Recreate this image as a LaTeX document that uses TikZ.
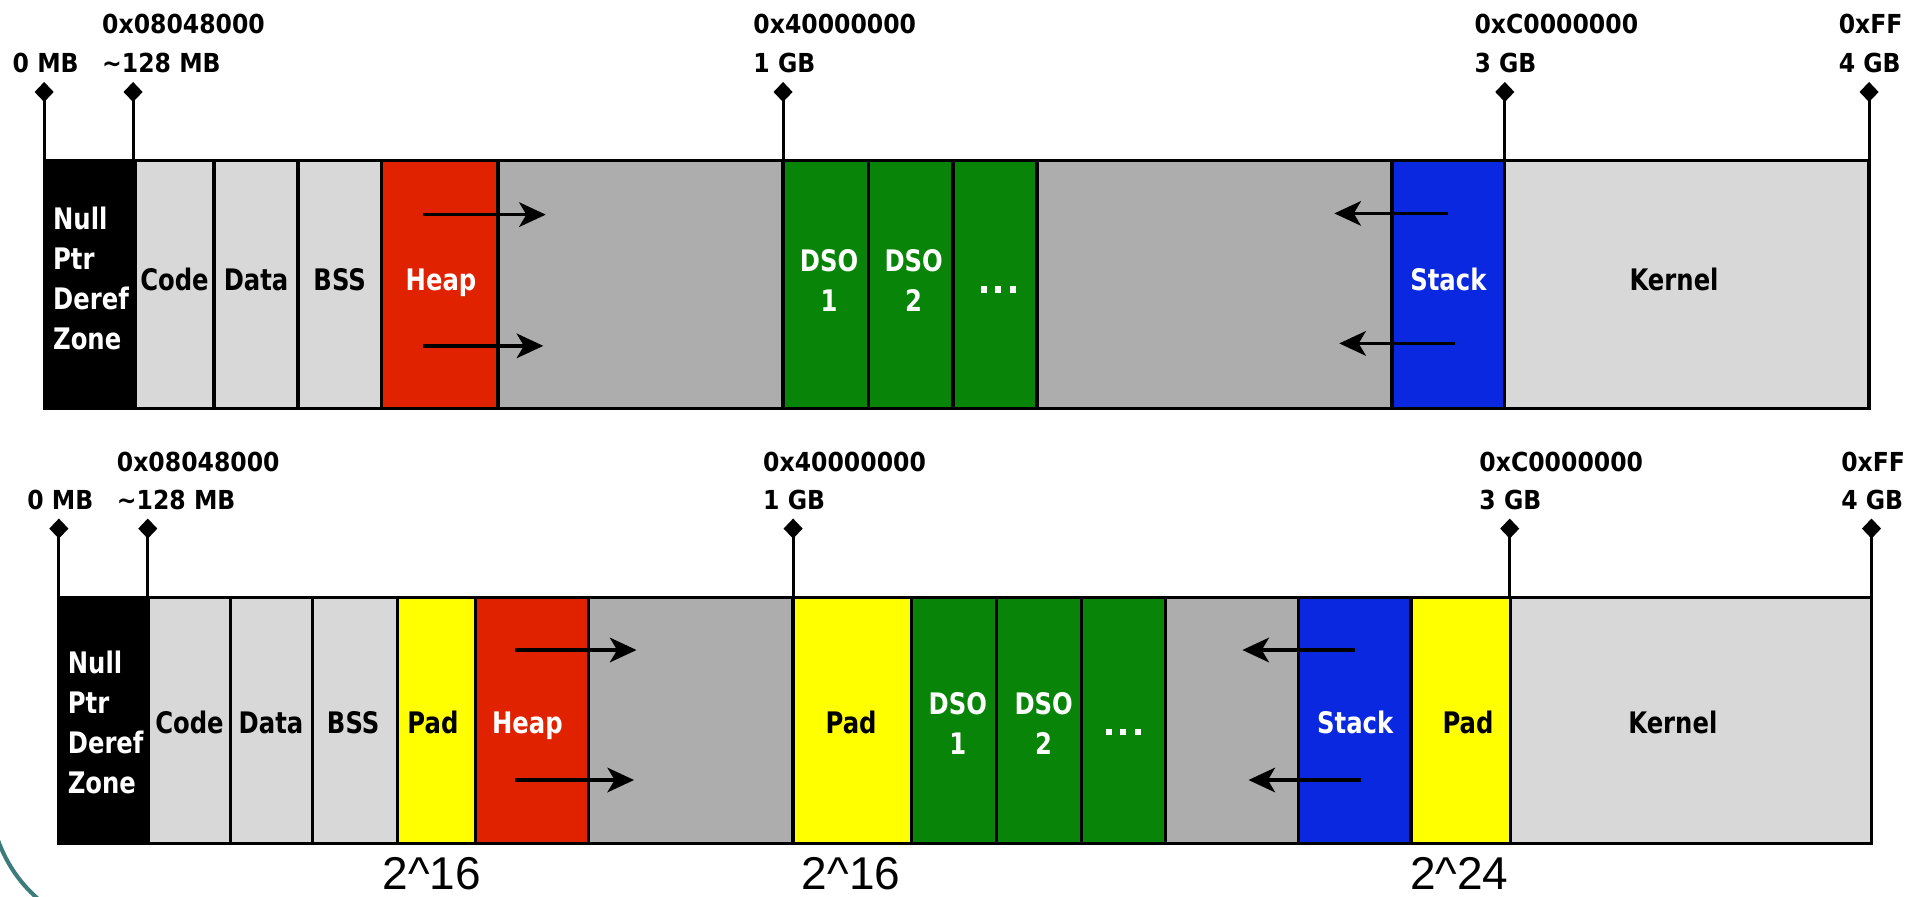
\documentclass[tikz,border=0pt]{standalone}
\usepackage{fontspec}
\usetikzlibrary{arrows.meta,shapes.geometric}
\newfontfamily\boxfont{DejaVu Sans}[FakeStretch=0.82]
\newfontfamily\addrfont{DejaVu Sans}[FakeStretch=0.9]
\newfontfamily\numfont{Liberation Sans}
\definecolor{segltgray}{HTML}{D8D8D8}
\definecolor{seggray}{HTML}{ADADAD}
\definecolor{segred}{HTML}{E02200}
\definecolor{seggreen}{HTML}{088508}
\definecolor{segblue}{HTML}{0A28E0}
\definecolor{segyellow}{HTML}{FFFF00}
\definecolor{arcteal}{HTML}{3E7B7B}
\newcommand\memseg[3]{\draw[segline, fill=#3] (#1,\yT) rectangle (#2,\yB);}
\newcommand\sqdots{\rule[-1.2pt]{3pt}{3pt}\hspace{4.2pt}\rule[-1.2pt]{3pt}{3pt}\hspace{4.2pt}\rule[-1.2pt]{3pt}{3pt}}
\begin{document}
\begin{tikzpicture}[x=0.6pt,y=-0.6pt,
  segline/.style={draw=black,line width=1.6pt},
  boxlbl/.style={font=\boxfont\bfseries\fontsize{14.5}{19.6}\selectfont, inner sep=0pt, anchor=base},
  boxlblw/.style={boxlbl,text=white},
  multilbl/.style={font=\boxfont\bfseries\fontsize{14.5}{19.6}\selectfont, inner sep=0pt, text=white},
  addrlbl/.style={font=\addrfont\bfseries\fontsize{12.8}{14}\selectfont, inner sep=0pt, anchor=west},
  tickdia/.style={diamond, fill=black, inner sep=0pt, minimum width=9.5pt, minimum height=10pt},
  tickline/.style={line width=1.5pt},
  growarrow/.style={line width=1.8pt, -{Stealth[length=13pt,width=12pt,inset=3.5pt]}},
  powlbl/.style={font=\numfont\fontsize{22.5}{27}\selectfont, inner sep=0pt, anchor=base},
]
\fill[white] (0,0) rectangle (1568,731);
\useasboundingbox (0,0) rectangle (1568,731);

% ---------------- top bar ----------------
\def\yT{131}\def\yB{333}
\memseg{36}{110}{black}
\memseg{110}{174.5}{segltgray}
\memseg{174.5}{243}{segltgray}
\memseg{243}{311}{segltgray}
\memseg{311}{406}{segred}
\memseg{406}{638.5}{seggray}
\memseg{638.5}{708}{seggreen}
\memseg{708}{777}{seggreen}
\memseg{777}{845.5}{seggreen}
\memseg{845.5}{1135}{seggray}
\memseg{1135}{1227}{segblue}
\memseg{1227}{1524}{segltgray}

\node[multilbl, align=left, anchor=west] (nullT) at (43,226.8) {Null\\Ptr\\Deref\\Zone};
\node[boxlbl] (codeT) at (142.3,236.5) {Code};
\node[boxlbl] (dataT) at (208.8,236.5) {Data};
\node[boxlbl] (bssT) at (277,236.5) {BSS};
\node[boxlblw] (heapT) at (359.6,236.5) {Heap};
\node[multilbl, align=center] (dsoaT) at (676,228.4) {DSO\\1};
\node[multilbl, align=center] (dsobT) at (745,228.4) {DSO\\2};
\node[boxlblw] (dotsT) at (814,236.5) {\sqdots};
\node[boxlblw] (stackT) at (1181,236.5) {Stack};
\node[boxlbl] (kernT) at (1365,236.5) {Kernel};

\coordinate (hTas) at (345,175); \coordinate (hTae) at (445,175);
\coordinate (hTbs) at (345,282); \coordinate (hTbe) at (443,282);
\coordinate (sTas) at (1181,174); \coordinate (sTae) at (1088,174);
\coordinate (sTbs) at (1186,280); \coordinate (sTbe) at (1092,280);
\draw[growarrow] (hTas) -- (hTae);
\draw[growarrow] (hTbs) -- (hTbe);
\draw[growarrow] (sTas) -- (sTae);
\draw[growarrow] (sTbs) -- (sTbe);

\foreach \tx/\nm in {36/tTa,108.5/tTb,638.5/tTc,1227/tTd,1524/tTe}{
  \node[tickdia] (\nm) at (\tx,75) {};
  \draw[tickline] (\nm.center) -- (\tx,\yT);
}
\node[addrlbl] (lTa) at (10,51) {0 MB};
\node[addrlbl] (lTb1) at (83,19.6) {0x08048000};
\node[addrlbl] (lTb2) at (83,51) {\textasciitilde128 MB};
\node[addrlbl] (lTc1) at (614,19.6) {0x40000000};
\node[addrlbl] (lTc2) at (614,51) {1 GB};
\node[addrlbl] (lTd1) at (1202,19.6) {0xC0000000};
\node[addrlbl] (lTd2) at (1202,51) {3 GB};
\node[addrlbl] (lTe1) at (1499,19.6) {0xFF};
\node[addrlbl] (lTe2) at (1499,51) {4 GB};

% ---------------- bottom bar ----------------
\def\yT{487}\def\yB{687.5}
\memseg{48}{121}{black}
\memseg{121}{188}{segltgray}
\memseg{188}{255}{segltgray}
\memseg{255}{324}{segltgray}
\memseg{324}{388}{segyellow}
\memseg{388}{480}{segred}
\memseg{480}{646.7}{seggray}
\memseg{646.7}{743}{segyellow}
\memseg{743}{812.6}{seggreen}
\memseg{812.6}{882}{seggreen}
\memseg{882}{950.6}{seggreen}
\memseg{950.6}{1059}{seggray}
\memseg{1059}{1150.6}{segblue}
\memseg{1150.6}{1231.7}{segyellow}
\memseg{1231.7}{1526}{segltgray}

\node[multilbl, align=left, anchor=west] (nullB) at (55,589) {Null\\Ptr\\Deref\\Zone};
\node[boxlbl] (codeB) at (154.5,597.7) {Code};
\node[boxlbl] (dataB) at (221,597.7) {Data};
\node[boxlbl] (bssB) at (288,597.7) {BSS};
\node[boxlbl] (padaB) at (353,597.7) {Pad};
\node[boxlblw] (heapB) at (430,597.7) {Heap};
\node[boxlbl] (padbB) at (694,597.7) {Pad};
\node[multilbl, align=center] (dsoaB) at (781,589.6) {DSO\\1};
\node[multilbl, align=center] (dsobB) at (851,589.6) {DSO\\2};
\node[boxlblw] (dotsB) at (916,597.7) {\sqdots};
\node[boxlblw] (stackB) at (1105,597.7) {Stack};
\node[boxlbl] (padcB) at (1197,597.7) {Pad};
\node[boxlbl] (kernB) at (1364,597.7) {Kernel};

\coordinate (hBas) at (420,530); \coordinate (hBae) at (519,530);
\coordinate (hBbs) at (420,636); \coordinate (hBbe) at (517,636);
\coordinate (sBas) at (1105,530); \coordinate (sBae) at (1013,530);
\coordinate (sBbs) at (1110,636); \coordinate (sBbe) at (1018,636);
\draw[growarrow] (hBas) -- (hBae);
\draw[growarrow] (hBbs) -- (hBbe);
\draw[growarrow] (sBas) -- (sBae);
\draw[growarrow] (sBbs) -- (sBbe);

\foreach \tx/\nm in {48/tBa,120.5/tBb,646.7/tBc,1231/tBd,1526/tBe}{
  \node[tickdia] (\nm) at (\tx,431) {};
  \draw[tickline] (\nm.center) -- (\tx,\yT);
}
\node[addrlbl] (lBa) at (22,407.7) {0 MB};
\node[addrlbl] (lBb1) at (95,376.5) {0x08048000};
\node[addrlbl] (lBb2) at (95,407.7) {\textasciitilde128 MB};
\node[addrlbl] (lBc1) at (622,376.5) {0x40000000};
\node[addrlbl] (lBc2) at (622,407.7) {1 GB};
\node[addrlbl] (lBd1) at (1206,376.5) {0xC0000000};
\node[addrlbl] (lBd2) at (1206,407.7) {3 GB};
\node[addrlbl] (lBe1) at (1501,376.5) {0xFF};
\node[addrlbl] (lBe2) at (1501,407.7) {4 GB};

\node[powlbl] (powa) at (352,725) {2\textasciicircum16};
\node[powlbl] (powb) at (694,725) {2\textasciicircum16};
\node[powlbl] (powc) at (1190,725) {2\textasciicircum24};

% slide decoration arc
\draw[arcteal, line width=2pt] (-2,684) .. controls (4,701) and (14,718) .. (31,733);
\end{tikzpicture}
\end{document}
